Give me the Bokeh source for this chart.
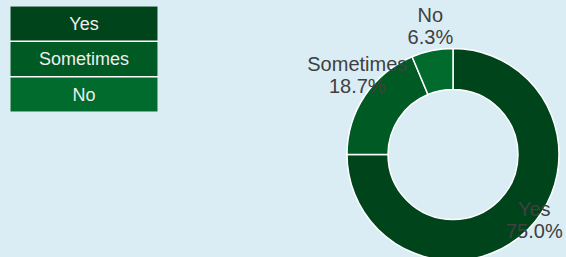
import numpy as np
from bokeh.plotting import figure
from bokeh.models import Range1d, ColumnDataSource
from bokeh.core.properties import value
from bokeh.embed import file_html
from bokeh.resources import INLINE

categories = ["Yes", "Sometimes", "No"]
percent = [75.0, 18.7, 6.3]
colors = ["#00441b", "#005a24", "#006b2c"]

W, H = 566, 257
BG = "#daedf4"
FONT = "Liberation Sans"

p = figure(width=W, height=H, x_range=Range1d(0, W), y_range=Range1d(0, H),
           output_backend="svg", toolbar_location=None, min_border=0)
p.axis.visible = False
p.grid.visible = False
p.outline_line_color = None
p.background_fill_color = BG
p.border_fill_color = BG

# donut
cx, cy = 452.5, 103
r_in, r_out = 65, 106
frac = np.array(percent) / sum(percent)
ends = np.pi / 2 - 2 * np.pi * np.cumsum(frac)
starts = ends + 2 * np.pi * frac
src = ColumnDataSource(dict(start=starts, end=ends, color=colors, cat=categories))
p.annular_wedge(x=cx, y=cy, inner_radius=r_in, outer_radius=r_out,
                start_angle="start", end_angle="end", direction="clock",
                fill_color="color", line_color="white", line_width=1.5, source=src)

mid = (starts + ends) / 2
r_lab = 115
labels = [f"{c}\n{v:.1f}%" for c, v in zip(categories, percent)]
lsrc = ColumnDataSource(dict(x=cx + r_lab * np.cos(mid), y=cy + r_lab * np.sin(mid), t=labels))
p.text(x="x", y="y", text="t", source=lsrc, y_offset=-16,
       text_align="center", text_baseline="middle", text_font=value(FONT),
       text_font_size="20px", text_color="#404040", text_line_height=1.0)

# legend boxes
lx0, lx1 = 10, 157
top0, step, bh = 6, 35.5, 34
tops = [H - (top0 + i * step) for i in range(len(categories))]
p.quad(left=lx0, right=lx1, top=tops[0], bottom=tops[-1] - bh, fill_color="white", line_color=None)
lg = ColumnDataSource(dict(top=tops, bottom=[t - bh for t in tops], color=colors,
                           cat=categories, ty=[t - bh / 2 for t in tops]))
p.quad(left=lx0, right=lx1, top="top", bottom="bottom", fill_color="color", line_color=None, source=lg)
p.text(x=(lx0 + lx1) / 2, y="ty", text="cat", source=lg, text_align="center",
       text_baseline="middle", text_font=value(FONT), text_font_size="18px", text_color="#eeeeee")

html = file_html(p, INLINE)
html = html.replace("<head>", "<head><style>html,body{margin:0;padding:0;background:%s;}</style>" % BG, 1)
open("out.html", "w").write(html)
